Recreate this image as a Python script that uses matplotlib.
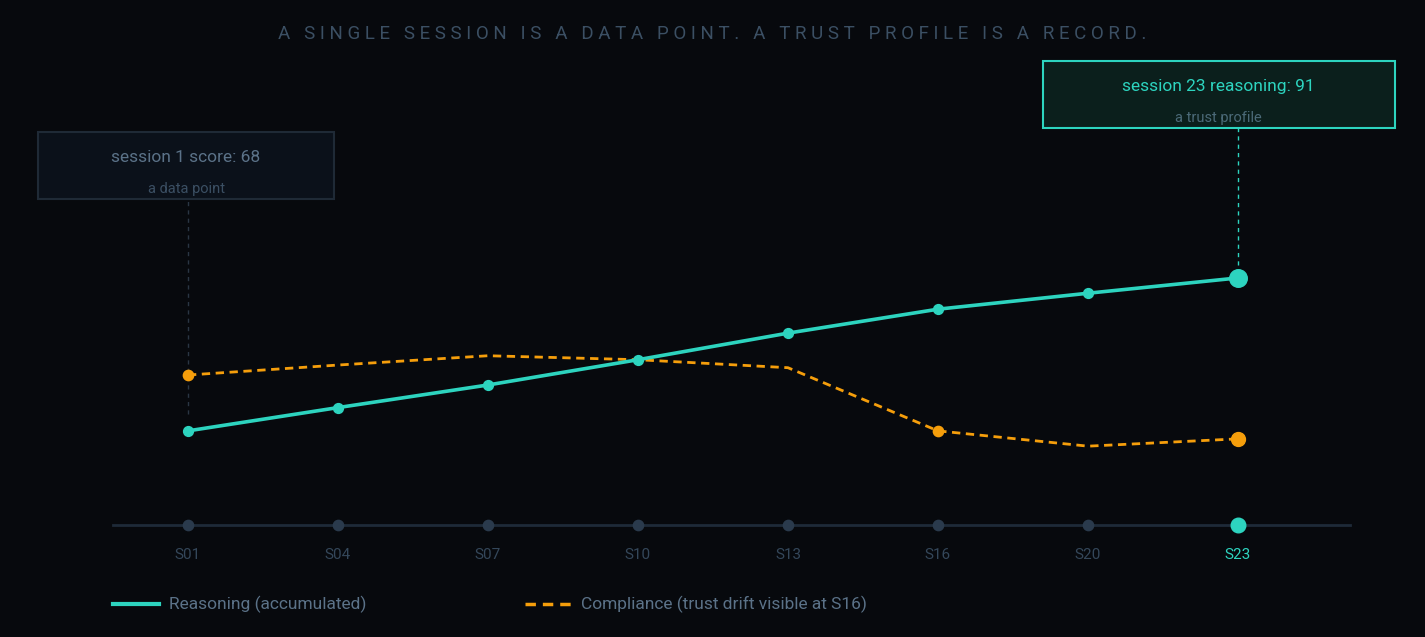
import matplotlib.pyplot as plt

sessions = ["S01", "S04", "S07", "S10", "S13", "S16", "S20", "S23"]
reasoning = [68, 71.5, 74.9, 78.7, 82.7, 86.3, 88.7, 91]
compliance = [76.4, 77.9, 79.3, 78.7, 77.5, 68, 65.7, 66.8]
baseline = 53.9

BG = "#07090d"
TEAL = "#2dd4bf"
ORANGE = "#f59e0b"
MUTED = "#3b4f63"

plt.rcParams["font.family"] = ["Roboto", "DejaVu Sans"]
fig = plt.figure(figsize=(14.25, 6.37), dpi=100, facecolor=BG)
ax = fig.add_axes([0, 0, 1, 1])
ax.set_facecolor(BG)
ax.set_xlim(-1.253, 8.247)
ax.set_ylim(37.0, 132.8)
ax.axis("off")
x = list(range(len(sessions)))

# baseline axis with session dots
ax.plot([-0.5, 7.747], [baseline, baseline], color="#1e2a38", lw=2, zorder=1)
for i, s in enumerate(sessions):
    last = i == len(sessions) - 1
    ax.scatter(i, baseline, s=110 if last else 55, color=TEAL if last else "#2a3a4c", zorder=3)
    ax.text(i, baseline - 4.6, s, ha="center", va="center", fontsize=11,
            color=TEAL if last else "#34475a")

# series
ax.plot(x, compliance, color=ORANGE, lw=2, ls=(0, (3, 2)), zorder=2)
ax.scatter([0, 5], [compliance[0], compliance[5]], s=55, color=ORANGE, zorder=3)
ax.scatter([7], [compliance[7]], s=100, color=ORANGE, zorder=3)
ax.plot(x, reasoning, color=TEAL, lw=2.6, zorder=4)
ax.scatter(x[:-1], reasoning[:-1], s=50, color=TEAL, zorder=5)
ax.scatter([7], [reasoning[7]], s=160, color=TEAL, zorder=5)

# callouts
ax.plot([0, 0], [reasoning[0] + 2.5, 112.3], color="#2a3644", lw=1, ls=(0, (3, 3)), zorder=1)
ax.plot([7, 7], [reasoning[7] + 2, 122.8], color=TEAL, lw=1, ls=(0, (3, 3)), zorder=1)

fig.patches.append(plt.Rectangle((38 / 1425, 1 - 199 / 637), 296 / 1425, 67 / 637,
                                 transform=fig.transFigure, facecolor="#0b111a",
                                 edgecolor="#1f2a36", lw=1.5))
fig.text(186 / 1425, 1 - 158 / 637, "session 1 score: 68", ha="center", va="center",
         fontsize=12.5, color="#5b7288")
fig.text(186 / 1425, 1 - 189 / 637, "a data point", ha="center", va="center",
         fontsize=10.5, color="#3b4f63")

fig.patches.append(plt.Rectangle((1043 / 1425, 1 - 128 / 637), 352 / 1425, 67 / 637,
                                 transform=fig.transFigure, facecolor="#0b1f1c",
                                 edgecolor=TEAL, lw=1.5))
fig.text(1218 / 1425, 1 - 87 / 637, "session 23 reasoning: 91", ha="center", va="center",
         fontsize=12.5, color=TEAL)
fig.text(1218 / 1425, 1 - 118 / 637, "a trust profile", ha="center", va="center",
         fontsize=10.5, color="#4b6a78")

# title
fig.text(0.5, 1 - 34 / 637,
         " ".join("A SINGLE SESSION IS A DATA POINT. A TRUST PROFILE IS A RECORD."),
         ha="center", va="center", fontsize=13.5, color="#3b4f63")

# legend
fig.add_artist(plt.Line2D([113 / 1425, 159 / 1425], [1 - 604 / 637] * 2, color=TEAL, lw=3))
fig.text(169 / 1425, 1 - 604 / 637, "Reasoning (accumulated)", va="center",
         fontsize=12.5, color="#5b7288")
fig.add_artist(plt.Line2D([525 / 1425, 572 / 1425], [1 - 604 / 637] * 2, color=ORANGE,
                          lw=2.5, ls=(0, (3, 2))))
fig.text(581 / 1425, 1 - 604 / 637, "Compliance (trust drift visible at S16)", va="center",
         fontsize=12.5, color="#5b7288")

fig.savefig("out.png", dpi=100, facecolor=BG)
